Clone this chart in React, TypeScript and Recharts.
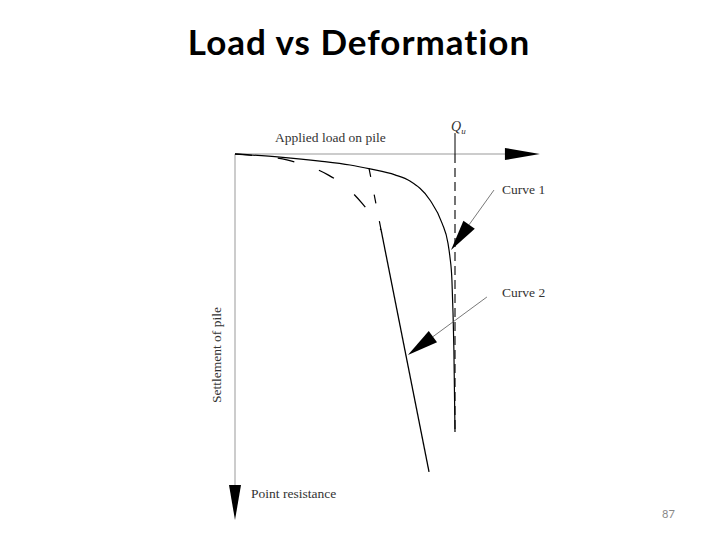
import React from 'react';
import {
  ComposedChart,
  Line,
  XAxis,
  YAxis,
  ReferenceLine,
  ReferenceDot,
} from 'recharts';

// load in % of Qu, settlement in the same drawing units (downwards)
const curve1 = [
  { x: 0, y: 0 },
  { x: 20.5, y: 1.4 },
  { x: 38.6, y: 3.2 },
  { x: 52.3, y: 5.0 },
  { x: 61.4, y: 6.8 },
  { x: 72.7, y: 9.5 },
  { x: 79.5, y: 12.3 },
  { x: 88.6, y: 20.9 },
  { x: 94.1, y: 31.4 },
  { x: 96.8, y: 40.5 },
  { x: 97.7, y: 46.8 },
  { x: 98.6, y: 57.3 },
  { x: 99.1, y: 72.3 },
  { x: 99.5, y: 89.1 },
  { x: 100, y: 126.4 },
];

const curve2Knee = [
  { x: 0, y: 0 },
  { x: 6.8, y: 0.5 },
  { x: 23.6, y: 2.7 },
  { x: 42.3, y: 9.5 },
  { x: 50, y: 14.5 },
  { x: 57.7, y: 22.3 },
  { x: 62.3, y: 28.2 },
  { x: 66.4, y: 34.5 },
];

const curve2Tail = [
  { x: 66.4, y: 34.5 },
  { x: 88.2, y: 144.5 },
];

const curve2Tangent = [
  { x: 60.9, y: 6.4 },
  { x: 66.4, y: 34.5 },
];

const ultimateLoad = 100;
const quTop = -9.5;
const quBottom = 126.4;

const xDomain = [0, 140];
const yDomain = [-13, 168];

const xAxisTip = 138.6;
const yAxisTip = 166.4;

const curve1Leader = [{ x: 117.7, y: 16.4 }, { x: 98.2, y: 43.6 }];
const curve2Leader = [{ x: 114.5, y: 65 }, { x: 78.6, y: 91.4 }];

const labels = [
  { text: 'Applied load on pile', x: 18.2, y: -5.5 },
  { text: 'Curve 1', x: 121.4, y: 18.2 },
  { text: 'Curve 2', x: 121.4, y: 65 },
  { text: 'Point resistance', x: 7.3, y: 156.4 },
];

const yLabel = { text: 'Settlement of pile', x: -8.6, y: 91.4 };
const quLabel = { x: 99.1, y: -10.5 };

const serif = '"Liberation Serif", "DejaVu Serif", serif';

const makeArrow = (len: number, half: number, lineColor: string, lineWidth: number) => (p: any) => {
  const { x1, y1, x2, y2 } = p;
  const dx = x2 - x1;
  const dy = y2 - y1;
  const d = Math.sqrt(dx * dx + dy * dy) || 1;
  const ux = dx / d;
  const uy = dy / d;
  const bx = x2 - ux * len;
  const by = y2 - uy * len;
  const px = -uy * half;
  const py = ux * half;
  return (
    <g>
      <line x1={x1} y1={y1} x2={bx} y2={by} stroke={lineColor} strokeWidth={lineWidth} />
      <polygon points={`${x2},${y2} ${bx + px},${by + py} ${bx - px},${by - py}`} fill="#000" />
    </g>
  );
};

const textShape = (text: string) => (p: any) => (
  <text x={p.cx} y={p.cy} fontFamily={serif} fontSize={13.5} fill="#333">
    {text}
  </text>
);

const App: React.FC = () => {
  return (
    <div style={{ position: 'absolute', left: 0, top: 0, width: 720, height: 540, background: '#fff' }}>
      <div
        style={{
          position: 'absolute',
          left: 0,
          top: 24,
          width: 718,
          textAlign: 'center',
          fontFamily: 'Lato, "Open Sans", sans-serif',
          fontWeight: 700,
          fontSize: 35,
          letterSpacing: 1,
          lineHeight: '35px',
          color: '#000',
        }}
      >
        Load vs Deformation
      </div>
      <ComposedChart
        width={720}
        height={540}
        margin={{ left: 235, right: 177, top: 125.4, bottom: 16.4 }}
        style={{ position: 'absolute', left: 0, top: 0 }}
      >
        <XAxis type="number" dataKey="x" domain={xDomain} allowDataOverflow hide />
        <YAxis type="number" dataKey="y" domain={yDomain} reversed allowDataOverflow hide />

        <ReferenceLine
          segment={[{ x: 0, y: 0 }, { x: xAxisTip, y: 0 }]}
          shape={makeArrow(35, 6, '#999', 1)}
        />
        <ReferenceLine
          segment={[{ x: 0, y: 0 }, { x: 0, y: yAxisTip }]}
          shape={makeArrow(35, 6, '#999', 1)}
        />
        <ReferenceLine
          segment={[{ x: ultimateLoad, y: quTop }, { x: ultimateLoad, y: 0 }]}
          stroke="#000"
          strokeWidth={1}
        />
        <ReferenceLine
          segment={[{ x: ultimateLoad, y: 0 }, { x: ultimateLoad, y: quBottom }]}
          stroke="#000"
          strokeWidth={1.1}
          strokeDasharray="9 5"
        />

        <Line data={curve1} dataKey="y" type="monotone" stroke="#000" strokeWidth={1.2} dot={false} activeDot={false} isAnimationActive={false} />
        <Line data={curve2Knee} dataKey="y" type="monotone" stroke="#000" strokeWidth={1.3} strokeDasharray="17 26" dot={false} activeDot={false} isAnimationActive={false} />
        <Line data={curve2Tangent} dataKey="y" type="linear" stroke="#000" strokeWidth={1.2} strokeDasharray="9 18" dot={false} activeDot={false} isAnimationActive={false} />
        <Line data={curve2Tail} dataKey="y" type="linear" stroke="#000" strokeWidth={1.3} dot={false} activeDot={false} isAnimationActive={false} />

        <ReferenceLine segment={curve1Leader} shape={makeArrow(31, 7, '#555', 0.8)} />
        <ReferenceLine segment={curve2Leader} shape={makeArrow(31, 7, '#555', 0.8)} />

        {labels.map((l) => (
          <ReferenceDot key={l.text} x={l.x} y={l.y} r={0} ifOverflow="visible" shape={textShape(l.text)} />
        ))}
        <ReferenceDot
          x={quLabel.x}
          y={quLabel.y}
          r={0}
          ifOverflow="visible"
          shape={(p: any) => (
            <text x={p.cx - 2} y={p.cy} fontFamily={serif} fontStyle="italic" fontSize={14} fill="#333">
              Q<tspan fontSize={9} dy={3}>u</tspan>
            </text>
          )}
        />
        <ReferenceDot
          x={yLabel.x}
          y={yLabel.y}
          r={0}
          ifOverflow="visible"
          shape={(p: any) => (
            <text
              x={p.cx}
              y={p.cy}
              transform={`rotate(-90 ${p.cx} ${p.cy})`}
              textAnchor="middle"
              dominantBaseline="central"
              fontFamily={serif}
              fontSize={13.5}
              fill="#333"
            >
              {yLabel.text}
            </text>
          )}
        />
      </ComposedChart>
      <div
        style={{
          position: 'absolute',
          left: 662,
          top: 507,
          fontFamily: 'Lato, "Open Sans", sans-serif',
          fontSize: 11,
          color: '#888',
        }}
      >
        87
      </div>
    </div>
  );
};

export default App;
